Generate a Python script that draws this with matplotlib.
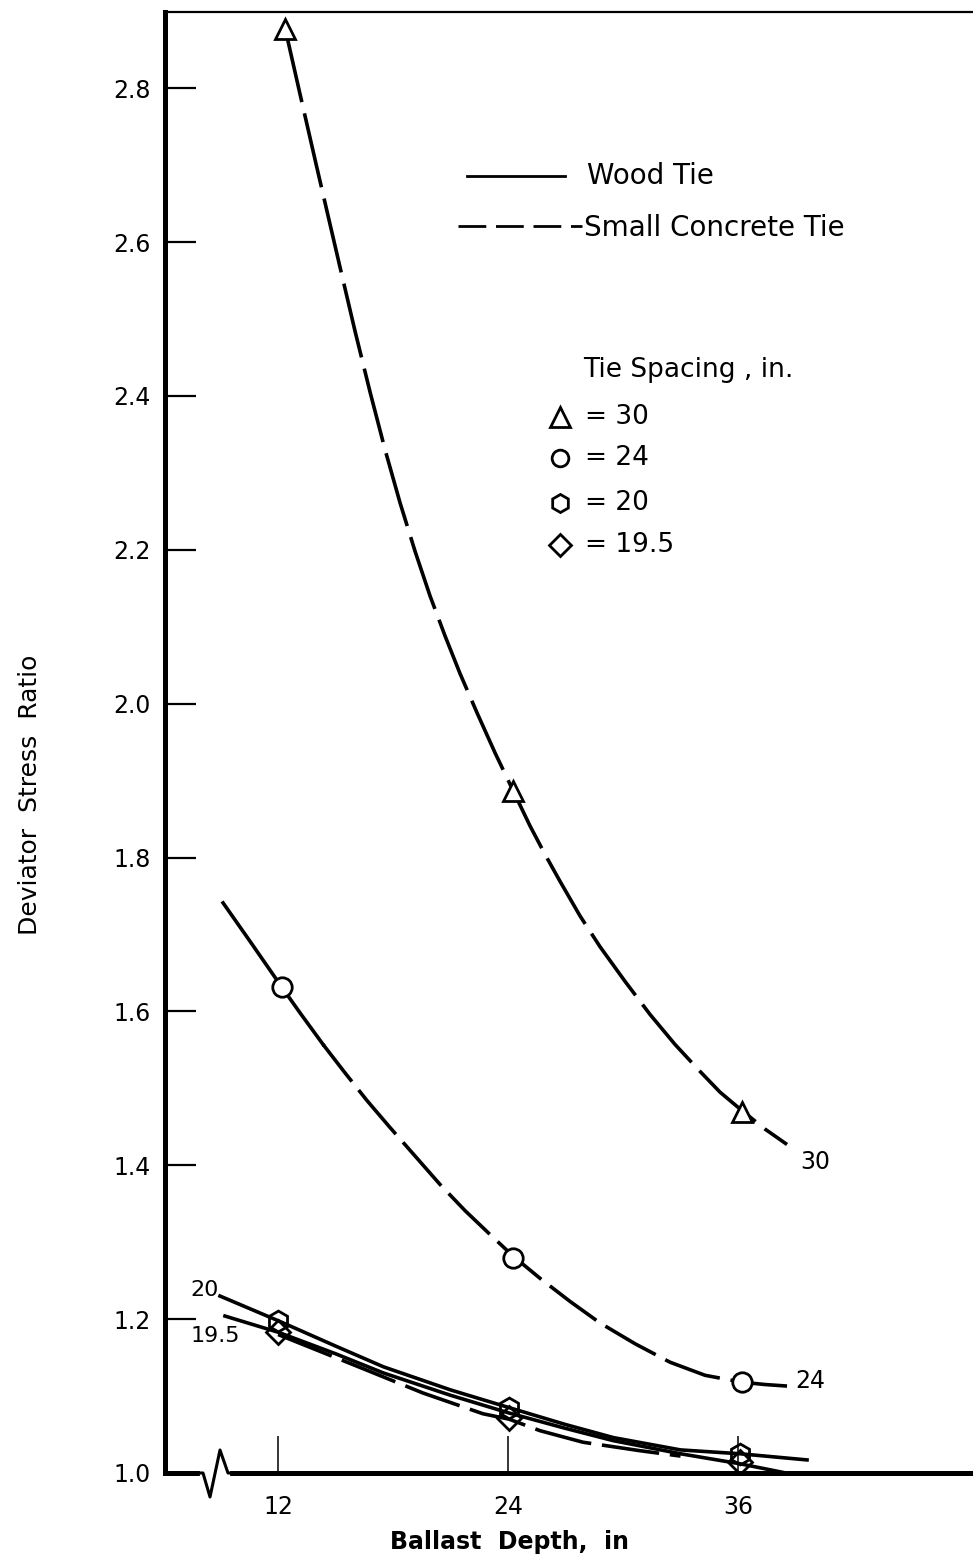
import matplotlib
matplotlib.use("Agg")
import matplotlib.pyplot as plt
from matplotlib.lines import Line2D

# ---------------- data ----------------
# Tie spacing 30 in. (small concrete tie, dashed)
c30_x = [12.365, 13.148, 13.930, 14.609, 15.235, 16.017, 16.800, 17.583, 18.365, 19.148,
         19.930, 20.713, 21.496, 22.383, 23.322, 24.261, 25.148, 25.930, 26.713, 27.757,
         28.800, 30.104, 31.409, 32.713, 34.017, 35.061, 36.209, 37.409, 38.557]
c30_y = [2.878, 2.792, 2.707, 2.634, 2.567, 2.484, 2.405, 2.330, 2.261, 2.198,
         2.140, 2.088, 2.039, 1.988, 1.936, 1.887, 1.841, 1.804, 1.769, 1.724,
         1.684, 1.639, 1.596, 1.557, 1.522, 1.495, 1.471, 1.447, 1.427]
m30_x = [12.37, 24.26, 36.2]
m30_y = [2.877, 1.887, 1.469]

# Tie spacing 24 in. (solid start, then dashed)
c24a_x = [9.130, 10.539, 12.209, 13.148, 14.348]
c24a_y = [1.741, 1.691, 1.631, 1.598, 1.557]
c24b_x = [14.348, 15.496, 16.643, 17.843, 19.148, 20.452, 21.757, 23.061, 24.261, 25.670,
          27.235, 28.800, 30.626, 32.452, 34.278, 36.209, 37.409, 38.557]
c24b_y = [1.557, 1.520, 1.484, 1.449, 1.412, 1.375, 1.341, 1.310, 1.282, 1.253,
          1.223, 1.195, 1.168, 1.144, 1.127, 1.118, 1.115, 1.113]
m24_x = [12.2, 24.26, 36.2]
m24_y = [1.632, 1.280, 1.118]

# Tie spacing 20 in. (wood tie, solid)
c20_x = [8.97, 12.0, 15.0, 17.5, 21.0, 24.05, 27.0, 29.5, 33.0, 36.1, 39.6]
c20_y = [1.230, 1.198, 1.165, 1.138, 1.108, 1.085, 1.063, 1.046, 1.030, 1.025, 1.017]
m20_x = [12.0, 24.05, 36.1]
m20_y = [1.198, 1.085, 1.025]

# Tie spacing 19.5 in. (solid)
c195_x = [9.23, 12.0, 15.0, 17.5, 21.0, 24.05, 27.0, 29.5, 33.0, 36.1, 38.5]
c195_y = [1.204, 1.183, 1.155, 1.130, 1.101, 1.078, 1.058, 1.042, 1.025, 1.012, 1.000]
m195_x = [12.0, 24.05, 36.1]
m195_y = [1.183, 1.072, 1.014]

# Tie spacing 19.5 in. (dashed companion)
c195d_x = [12.0, 16.0, 19.56, 22.69, 24.05, 25.67, 27.91, 30.88, 33.0]
c195d_y = [1.180, 1.140, 1.104, 1.077, 1.070, 1.055, 1.040, 1.029, 1.022]

x_ticks = [12, 24, 36]
x_ticklabels = ["12", "24", "36"]
y_ticks = [1.0, 1.2, 1.4, 1.6, 1.8, 2.0, 2.2, 2.4, 2.6, 2.8]
y_ticklabels = ["1.0", "1.2", "1.4", "1.6", "1.8", "2.0", "2.2", "2.4", "2.6", "2.8"]

# ---------------- figure ----------------
W, H = 973, 1567
fig = plt.figure(figsize=(W / 100, H / 100), dpi=100)
plt.rcParams['font.family'] = ['DejaVu Sans']

def fx(px):
    return px / W

def fy(py):
    return 1 - py / H

ax = fig.add_axes([fx(165), fy(1473), 1 - fx(165), fy(12) - fy(1473)])
ax.set_xlim(6.1, 48.26)
ax.set_ylim(1.0, 2.899)

ax.spines["right"].set_visible(False)
ax.spines["left"].set_linewidth(3.6)
ax.spines["bottom"].set_linewidth(3.6)
ax.spines["top"].set_linewidth(1.6)

ax.set_xticks(x_ticks)
ax.set_xticklabels(x_ticklabels)
ax.set_yticks(y_ticks)
ax.set_yticklabels(y_ticklabels)
ax.tick_params(axis="y", direction="in", length=22, width=1.6, pad=10, labelsize=17)
ax.tick_params(axis="x", direction="in", length=27, width=1.1, pad=16, labelsize=17)

lw = 2.6
mk = dict(markerfacecolor="white", markeredgecolor="black", markeredgewidth=2.0,
          linestyle="none", zorder=5)

ax.plot(c30_x, c30_y, color="black", lw=lw, linestyle=(0, (21, 3.2)), solid_capstyle="butt")
ax.plot(m30_x, m30_y, marker="^", markersize=15, **mk)

ax.plot(c24a_x, c24a_y, color="black", lw=lw)
ax.plot(c24b_x, c24b_y, color="black", lw=lw, linestyle=(3, (16, 3.0)))
ax.plot(m24_x, m24_y, marker="o", markersize=14, **mk)

ax.plot(c20_x, c20_y, color="black", lw=lw)
ax.plot(c195_x, c195_y, color="black", lw=lw)
ax.plot(c195d_x, c195d_y, color="black", lw=lw, linestyle=(0, (16, 3.0)))
ax.plot(m20_x, m20_y, marker="h", markersize=15, markerfacecolor="none",
        markeredgecolor="black", markeredgewidth=2.0, linestyle="none", zorder=6)
ax.plot(m195_x, m195_y, marker="D", markersize=12, markerfacecolor="none",
        markeredgecolor="black", markeredgewidth=2.0, linestyle="none", zorder=6)

# axis break zigzag on the x axis
fig.add_artist(Line2D([fx(203), fx(227)], [fy(1473), fy(1473)], color="white", lw=4.5, zorder=10))
fig.add_artist(Line2D([fx(198), fx(203), fx(210), fx(220), fx(228), fx(233)],
                      [fy(1473), fy(1473), fy(1497), fy(1450), fy(1473), fy(1473)],
                      color="black", lw=2.2, zorder=11))

# legend: line styles
fig.add_artist(Line2D([fx(467), fx(565)], [fy(176), fy(176)], color="black", lw=2.0))
fig.add_artist(Line2D([fx(458), fx(582)], [fy(226), fy(226)], color="black", lw=2.0,
                      linestyle=(0, (10, 3.5))))
fig.text(fx(587), fy(176), "Wood Tie", fontsize=20, ha="left", va="center")
fig.text(fx(584), fy(228), "Small Concrete Tie", fontsize=20, ha="left", va="center")

fig.text(fx(583), fy(370), "Tie Spacing , in.", fontsize=19, ha="left", va="center")
leg_rows = [("^", 417, "= 30", 14), ("o", 458, "= 24", 12),
            ("h", 503, "= 20", 13), ("D", 545, "= 19.5", 11)]
for m, py, t, ms in leg_rows:
    fig.add_artist(Line2D([fx(560)], [fy(py)], marker=m, markersize=ms,
                          markerfacecolor="white", markeredgecolor="black",
                          markeredgewidth=2.0, linestyle="none"))
    fig.text(fx(585), fy(py), t, fontsize=19, ha="left", va="center")

# curve labels
fig.text(fx(815), fy(1162), "30", fontsize=17, ha="center", va="center")
fig.text(fx(810), fy(1381), "24", fontsize=17, ha="center", va="center")
fig.text(fx(205), fy(1290), "20", fontsize=16, ha="center", va="center")
fig.text(fx(215), fy(1336), "19.5", fontsize=16, ha="center", va="center")

# axis titles
fig.text(fx(510), fy(1542), "Ballast  Depth,  in", fontsize=17, fontweight="bold",
         ha="center", va="center")
fig.text(fx(30), fy(795), "Deviator  Stress  Ratio", fontsize=18, rotation=90,
         ha="center", va="center")

fig.savefig("out.png", dpi=100)
